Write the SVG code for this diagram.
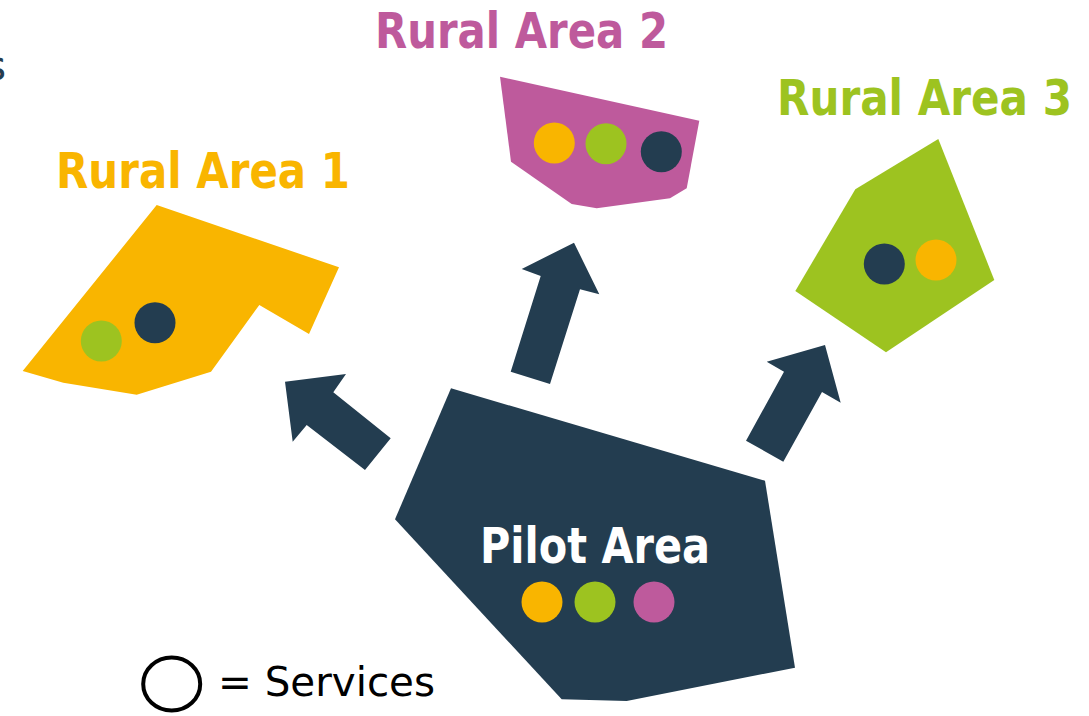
<svg xmlns="http://www.w3.org/2000/svg" width="1089" height="716" viewBox="0 0 1089 716">
<style>
.yel{fill:#F9B500}.pnk{fill:#BE5A9C}.grn{fill:#9DC320}.drk{fill:#233D50}
.t{font-family:"DejaVu Sans","Liberation Sans",sans-serif;font-weight:bold;font-size:49px}
.n{font-family:"DejaVu Sans","Liberation Sans",sans-serif;font-size:41px}
</style>
<rect width="1089" height="716" fill="#fff"/>
<text class="n" x="6" y="80" text-anchor="end" fill="#233D50">s</text>
<g id="connectors" class="drk">
<polygon points="285,381.7 346,374 333.3,392.3 390.7,438.3 365,470 306.7,425 292.7,441.7"/>
<polygon points="574,242.7 599.3,294.3 580,289.3 550,384 510.7,371.7 540.7,276 521.7,269"/>
<polygon points="825,345 840.7,402.7 822,392 783.3,461.7 746,440.7 784,371.7 766.7,361.7"/>
</g>
<g id="rural1">
<polygon class="yel" points="156.7,205 339,267.3 309,334 259.3,305 211,371.7 136.7,394.7 63.3,382.7 22.7,371"/>
<circle class="grn" cx="101.3" cy="341" r="20.5"/>
<circle class="drk" cx="155" cy="322.7" r="20.5"/>
<text class="t yel" x="56" y="188" textLength="294" lengthAdjust="spacingAndGlyphs">Rural Area 1</text>
</g>
<g id="rural2">
<polygon class="pnk" points="500,76.7 699.3,120.7 686.7,188.3 670,198.3 596.7,208.3 571.7,204 511,161.7"/>
<circle class="yel" cx="554.3" cy="143" r="20.5"/>
<circle class="grn" cx="606" cy="143.7" r="20.5"/>
<circle class="drk" cx="661.3" cy="151.7" r="20.5"/>
<text class="t pnk" x="375" y="48" textLength="293" lengthAdjust="spacingAndGlyphs">Rural Area 2</text>
</g>
<g id="rural3">
<polygon class="grn" points="938.3,139 994.3,280 886,352.3 795.3,291 855.3,189.3"/>
<circle class="drk" cx="884.3" cy="264" r="20.5"/>
<circle class="yel" cx="936" cy="260" r="20.5"/>
<text class="t grn" x="777" y="115" textLength="295" lengthAdjust="spacingAndGlyphs">Rural Area 3</text>
</g>
<g id="pilot">
<polygon class="drk" points="451,388.3 765,480.7 795,667.7 626.7,701 561.7,699.3 395,519.3"/>
<text class="t" x="480" y="563" fill="#fff" textLength="230" lengthAdjust="spacingAndGlyphs">Pilot Area</text>
<circle class="yel" cx="542" cy="602" r="20.5"/>
<circle class="grn" cx="595" cy="602" r="20.5"/>
<circle class="pnk" cx="654" cy="602" r="20.5"/>
</g>
<g id="legend">
<ellipse cx="171.7" cy="684" rx="28.5" ry="26.5" fill="none" stroke="#000" stroke-width="4"/>
<text class="n" x="218" y="696" fill="#000" textLength="217" lengthAdjust="spacingAndGlyphs">= Services</text>
</g>
</svg>
